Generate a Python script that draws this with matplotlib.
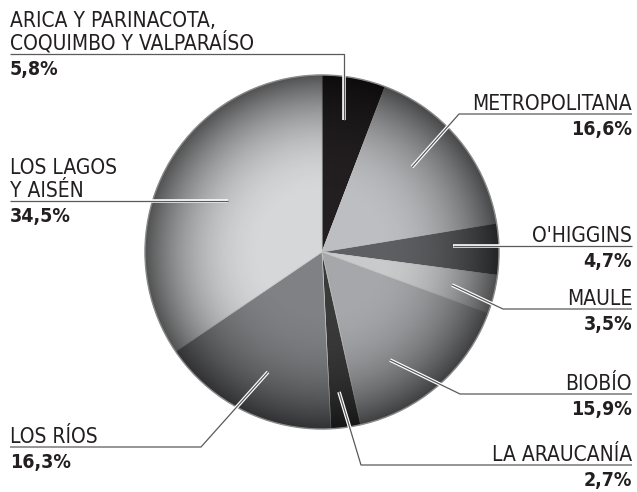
import numpy as np
import matplotlib.pyplot as plt
from matplotlib.patches import Circle
import matplotlib.patheffects as pe

# datos
regiones = ["ARICA Y PARINACOTA,\nCOQUIMBO Y VALPARAÍSO", "METROPOLITANA", "O'HIGGINS",
            "MAULE", "BIOBÍO", "LA ARAUCANÍA", "LOS RÍOS", "LOS LAGOS\nY AISÉN"]
porcentajes = [5.8, 16.6, 4.7, 3.5, 15.9, 2.7, 16.3, 34.5]
etiquetas = ["5,8%", "16,6%", "4,7%", "3,5%", "15,9%", "2,7%", "16,3%", "34,5%"]
colores = ["#231f20", "#bdbec1", "#5e5f62", "#c9cacc", "#a6a7aa", "#3a3a3b", "#808184", "#d6d7d9"]

W, H = 637, 492
FUENTE = ["DejaVu Sans"]


def Y(py):
    # pixeles desde arriba -> coordenadas del eje
    return H - py


fig = plt.figure(figsize=(W / 100, H / 100), dpi=100)
ax = fig.add_axes([0, 0, 1, 1])

cx, cy, r = 322, Y(252), 177

wedges, _ = ax.pie(porcentajes, colors=colores, startangle=90, counterclock=False,
                   center=(cx, cy), radius=r, frame=True,
                   wedgeprops=dict(edgecolor="#c4c4c4", linewidth=0.5))
ax.set_xlim(0, W)
ax.set_ylim(0, H)
ax.axis("off")

# sombreado radial
n = 400
gx, gy = np.meshgrid(np.linspace(-1, 1, n), np.linspace(-1, 1, n))
rr = np.sqrt(gx ** 2 + gy ** 2)
alpha = np.clip((rr - 0.3) / 0.7, 0, 1) ** 2.2 * 0.62
img = np.zeros((n, n, 4))
img[..., 3] = alpha
im = ax.imshow(img, extent=(cx - r, cx + r, cy - r, cy + r), origin="lower",
               interpolation="bilinear", zorder=3)
clip = Circle((cx, cy), r, transform=ax.transData)
im.set_clip_path(clip)
ax.add_patch(Circle((cx, cy), r, fill=False, edgecolor="#8a8a8a", linewidth=1, zorder=4))

# etiquetas: lado, y de la linea, puntos de la guia
lados = ["left", "right", "right", "right", "right", "right", "left", "left"]
linea_y = [54, 114, 246, 309, 394, 465, 447, 201]
guias = [
    [(344, 120), (344, 54), (10, 54)],
    [(412, 167), (459, 114), (632, 114)],
    [(453, 246), (632, 246)],
    [(452, 285), (503, 309), (632, 309)],
    [(390, 360), (460, 394), (632, 394)],
    [(339, 392), (361, 465), (632, 465)],
    [(268, 372), (201, 447), (10, 447)],
    [(228, 201), (10, 201)],
]

halo = [pe.Stroke(linewidth=2.6, foreground="white"), pe.Normal()]
for reg, et, lado, ly, guia in zip(regiones, etiquetas, lados, linea_y, guias):
    xs = [p[0] for p in guia]
    ys = [Y(p[1]) for p in guia]
    ax.plot(xs, ys, color="#5a5a5a", linewidth=0.9, zorder=5, path_effects=halo,
            solid_capstyle="butt")
    x = 10 if lado == "left" else 632
    lineas = reg.split("\n")
    for k, txt in enumerate(reversed(lineas)):
        ax.text(x, Y(ly - 4 - 23 * k), txt, ha=lado, va="baseline", fontsize=15,
                family=FUENTE, stretch="condensed", color="#231f20", zorder=6)
    ax.text(x, Y(ly + 21), et, ha=lado, va="baseline", fontsize=14, fontweight="bold",
            family=FUENTE, stretch="condensed", color="#231f20", zorder=6)

fig.savefig("out.png", dpi=100)
